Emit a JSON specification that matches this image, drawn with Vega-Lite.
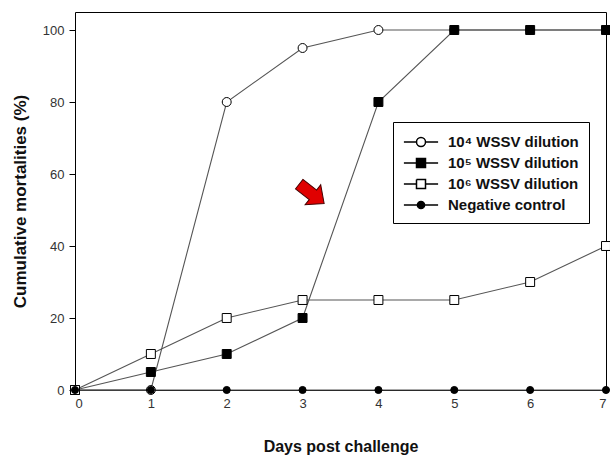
{
  "$schema": "https://vega.github.io/schema/vega-lite/v6.json",
  "width": 531,
  "height": 378,
  "autosize": {"type": "none"},
  "padding": {"left": 75, "top": 12, "right": 4, "bottom": 67},
  "background": "white",
  "config": {
    "view": {"stroke": "#000", "strokeWidth": 1},
    "font": "Liberation Sans",
    "axis": {"grid": false, "domainColor": "#000", "tickColor": "#000", "labelColor": "#333", "labelFont": "Liberation Sans", "labelFontSize": 13, "titleFont": "Liberation Sans", "titleFontWeight": "bold", "titleColor": "#111"}
  },
  "datasets": {
    "mort": [
      {"series": "10⁴ WSSV dilution", "day": 0, "pct": 0},
      {"series": "10⁴ WSSV dilution", "day": 1, "pct": 0},
      {"series": "10⁴ WSSV dilution", "day": 2, "pct": 80},
      {"series": "10⁴ WSSV dilution", "day": 3, "pct": 95},
      {"series": "10⁴ WSSV dilution", "day": 4, "pct": 100},
      {"series": "10⁴ WSSV dilution", "day": 5, "pct": 100},
      {"series": "10⁴ WSSV dilution", "day": 6, "pct": 100},
      {"series": "10⁴ WSSV dilution", "day": 7, "pct": 100},
      {"series": "10⁵ WSSV dilution", "day": 0, "pct": 0},
      {"series": "10⁵ WSSV dilution", "day": 1, "pct": 5},
      {"series": "10⁵ WSSV dilution", "day": 2, "pct": 10},
      {"series": "10⁵ WSSV dilution", "day": 3, "pct": 20},
      {"series": "10⁵ WSSV dilution", "day": 4, "pct": 80},
      {"series": "10⁵ WSSV dilution", "day": 5, "pct": 100},
      {"series": "10⁵ WSSV dilution", "day": 6, "pct": 100},
      {"series": "10⁵ WSSV dilution", "day": 7, "pct": 100},
      {"series": "10⁶ WSSV dilution", "day": 0, "pct": 0},
      {"series": "10⁶ WSSV dilution", "day": 1, "pct": 10},
      {"series": "10⁶ WSSV dilution", "day": 2, "pct": 20},
      {"series": "10⁶ WSSV dilution", "day": 3, "pct": 25},
      {"series": "10⁶ WSSV dilution", "day": 4, "pct": 25},
      {"series": "10⁶ WSSV dilution", "day": 5, "pct": 25},
      {"series": "10⁶ WSSV dilution", "day": 6, "pct": 30},
      {"series": "10⁶ WSSV dilution", "day": 7, "pct": 40},
      {"series": "Negative control", "day": 0, "pct": 0},
      {"series": "Negative control", "day": 1, "pct": 0},
      {"series": "Negative control", "day": 2, "pct": 0},
      {"series": "Negative control", "day": 3, "pct": 0},
      {"series": "Negative control", "day": 4, "pct": 0},
      {"series": "Negative control", "day": 5, "pct": 0},
      {"series": "Negative control", "day": 6, "pct": 0},
      {"series": "Negative control", "day": 7, "pct": 0}
    ],
    "arrow": [{"day": 3.12, "pct": 54.5}]
  },
  "layer": [
    {
      "data": {"name": "mort"},
      "mark": {"type": "line", "stroke": "#555", "strokeWidth": 1.1, "clip": false},
      "encoding": {
        "x": {"field": "day", "type": "quantitative", "scale": {"domain": [0, 7], "nice": false},
          "axis": {"values": [0,1,2,3,4,5,6,7], "format": "d", "tickSize": 0, "labelPadding": 7, "title": "Days post challenge", "titleFontSize": 16, "titlePadding": 28, "domain": false}},
        "y": {"field": "pct", "type": "quantitative", "scale": {"domain": [0, 105], "nice": false},
          "axis": {"values": [0,20,40,60,80,100], "tickSize": 6, "labelPadding": 5, "title": "Cumulative mortalities (%)", "titleFontSize": 17, "titlePadding": 13, "domain": false}},
        "detail": {"field": "series"}
      }
    },
    {
      "data": {"name": "mort"},
      "transform": [{"filter": "datum.series == '10⁴ WSSV dilution'"}],
      "mark": {"type": "point", "shape": "circle", "size": 80, "fill": "white", "stroke": "#000", "strokeWidth": 1, "opacity": 1, "filled": true, "clip": false},
      "encoding": {
        "x": {"field": "day", "type": "quantitative"},
        "y": {"field": "pct", "type": "quantitative"}
      }
    },
    {
      "data": {"name": "mort"},
      "transform": [{"filter": "datum.series == '10⁵ WSSV dilution'"}],
      "mark": {"type": "point", "shape": "square", "size": 80, "fill": "black", "stroke": "#000", "strokeWidth": 1, "opacity": 1, "filled": true, "clip": false},
      "encoding": {
        "x": {"field": "day", "type": "quantitative"},
        "y": {"field": "pct", "type": "quantitative"}
      }
    },
    {
      "data": {"name": "mort"},
      "transform": [{"filter": "datum.series == '10⁶ WSSV dilution'"}],
      "mark": {"type": "point", "shape": "square", "size": 80, "fill": "white", "stroke": "#000", "strokeWidth": 1, "opacity": 1, "filled": true, "clip": false},
      "encoding": {
        "x": {"field": "day", "type": "quantitative"},
        "y": {"field": "pct", "type": "quantitative"}
      }
    },
    {
      "data": {"name": "mort"},
      "transform": [{"filter": "datum.series == 'Negative control'"}],
      "mark": {"type": "point", "shape": "circle", "size": 50, "fill": "black", "stroke": "#000", "strokeWidth": 1, "opacity": 1, "filled": true, "clip": false},
      "encoding": {
        "x": {"field": "day", "type": "quantitative"},
        "y": {"field": "pct", "type": "quantitative"}
      }
    },
    {
      "data": {"name": "mort"},
      "transform": [{"filter": "false"}],
      "mark": {"type": "point", "fill": "black", "stroke": "black", "strokeWidth": 1, "opacity": 1, "filled": true},
      "encoding": {
        "x": {"field": "day", "type": "quantitative"},
        "y": {"field": "pct", "type": "quantitative"},
        "shape": {"field": "series", "type": "nominal",
          "scale": {"domain": ["10⁴ WSSV dilution", "10⁵ WSSV dilution", "10⁶ WSSV dilution", "Negative control"],
            "range": [
              "M-1.9,0L-0.5,0M0.5,0L1.9,0M0.5,0A0.5,0.5 0 1,1 -0.5,0A0.5,0.5 0 1,1 0.5,0A0.5,0.5 0 1,0 -0.5,0A0.5,0.5 0 1,0 0.5,0Z",
              "M-1.9,0L1.9,0M-0.5,-0.5L0.5,-0.5L0.5,0.5L-0.5,0.5Z",
              "M-1.9,0L-0.5,0M0.5,0L1.9,0M-0.5,-0.5L0.5,-0.5L0.5,0.5L-0.5,0.5L-0.5,-0.5L-0.5,0.5L0.5,0.5L0.5,-0.5Z",
              "M-1.9,0L1.9,0M0.4,0A0.4,0.4 0 1,1 -0.4,0A0.4,0.4 0 1,1 0.4,0Z"
            ]},
          "legend": {
            "title": null, "orient": "none", "legendX": 318, "legendY": 110,
            "strokeColor": "#000", "fillColor": "white", "padding": 10,
            "symbolSize": 324, "symbolOffset": 8, "labelOffset": 17, "rowPadding": 3,
            "symbolOpacity": 1,
            "labelFont": "Liberation Sans", "labelFontSize": 15, "labelFontWeight": "bold", "labelColor": "#111", "labelLimit": 300,
            "encode": {"symbols": {"stroke": {"value": "#000"}, "strokeWidth": {"value": 1}, "fill": {"value": "#000"}}}
          }}
      }
    },
    {
      "data": {"name": "arrow"},
      "mark": {"type": "point", "shape": "M-1,-0.38L0.1,-0.38L0.1,-0.8L1,0L0.1,0.8L0.1,0.38L-1,0.38Z", "size": 1000, "angle": 38, "fill": "#e00000", "stroke": "#400", "strokeWidth": 1, "opacity": 1, "filled": true},
      "encoding": {
        "x": {"field": "day", "type": "quantitative"},
        "y": {"field": "pct", "type": "quantitative"}
      }
    }
  ]
}
